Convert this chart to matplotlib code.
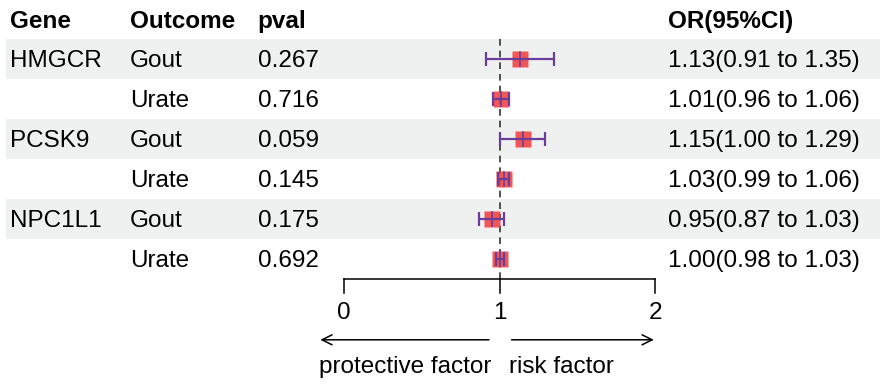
import matplotlib.pyplot as plt
import matplotlib.transforms as mtransforms

# 데이터
genes = ['HMGCR', '', 'PCSK9', '', 'NPC1L1', '']
outcomes = ['Gout', 'Urate', 'Gout', 'Urate', 'Gout', 'Urate']
pvals = ['0.267', '0.716', '0.059', '0.145', '0.175', '0.692']
or_est = [1.13, 1.01, 1.15, 1.03, 0.95, 1.00]
or_lo = [0.91, 0.96, 1.00, 0.99, 0.87, 0.98]
or_hi = [1.35, 1.06, 1.29, 1.06, 1.03, 1.03]
headers = ['Gene', 'Outcome', 'pval', 'OR(95%CI)']
axis_ticks = [0, 1, 2]

plt.rcParams['font.family'] = ['Liberation Sans', 'DejaVu Sans']
fs = 17.5
dy = 0.06  # 글자 세로 위치 보정

fig = plt.figure(figsize=(8.86, 3.85), dpi=100)
ax = fig.add_axes([0, 0, 1, 1])
ax.set_xlim(-344 / 155.5, (886 - 344) / 155.5)
ax.set_ylim(9.15, -0.475)
ax.axis('off')

trans = mtransforms.blended_transform_factory(ax.transAxes, ax.transData)
col_x = [0.0113, 0.1467, 0.291, 0.754]

# 배경 줄무늬
rows = list(range(1, len(outcomes) + 1))
for r in rows:
    if r % 2 == 1:
        ax.axhspan(r - 0.5, r + 0.5, xmin=0.0068, xmax=0.993, color='#eff1f1', lw=0, zorder=0)

# 헤더
for x, h in zip(col_x, headers):
    ax.text(x, 0 + dy, h, transform=trans, fontsize=fs, fontweight='bold', va='center', ha='left')

# 표 내용
for r, g, o, p, e, lo, hi in zip(rows, genes, outcomes, pvals, or_est, or_lo, or_hi):
    ax.text(col_x[0], r + dy, g, transform=trans, fontsize=fs, va='center')
    ax.text(col_x[1], r + dy, o, transform=trans, fontsize=fs, va='center')
    ax.text(col_x[2], r + dy, p, transform=trans, fontsize=fs, va='center')
    ax.text(col_x[3], r + dy, f'{e:.2f}({lo:.2f} to {hi:.2f})', transform=trans, fontsize=fs, va='center')

# 기준선
ax.plot([1, 1], [0.5, 6.5], color='#333333', lw=1.2, ls=(0, (4, 3)), zorder=1)

# 포레스트 플롯
for r, e, lo, hi in zip(rows, or_est, or_lo, or_hi):
    ax.plot(e, r, marker='s', ms=11.5, color='#f23a3a', alpha=0.85, mec='none', zorder=2)
    ax.errorbar(e, r, xerr=[[e - lo], [hi - e]], fmt='none', ecolor='#6a3d9a',
                elinewidth=1.6, capsize=5, capthick=1.6, zorder=3)
    ax.plot([e, e], [r - 0.17, r + 0.17], color='#6a3d9a', lw=1.2, zorder=3)

# x축
ax.plot([axis_ticks[0], axis_ticks[-1]], [6.5, 6.5], color='black', lw=1.1)
for t in axis_ticks:
    ax.plot([t, t], [6.5, 6.85], color='black', lw=1.1)
    ax.text(t, 7.3 + dy, str(t), fontsize=fs, ha='center', va='center')

# 화살표
arrow = dict(arrowstyle='->', color='black', lw=1.1, mutation_scale=18)
ax.annotate('', xy=(-0.17, 8.02), xytext=(0.95, 8.02), arrowprops=arrow)
ax.annotate('', xy=(2.01, 8.02), xytext=(1.06, 8.02), arrowprops=arrow)
ax.text(0.95, 8.65 + dy, 'protective factor', fontsize=fs, ha='right', va='center')
ax.text(1.06, 8.65 + dy, 'risk factor', fontsize=fs, ha='left', va='center')

fig.savefig('out.png', dpi=100)
